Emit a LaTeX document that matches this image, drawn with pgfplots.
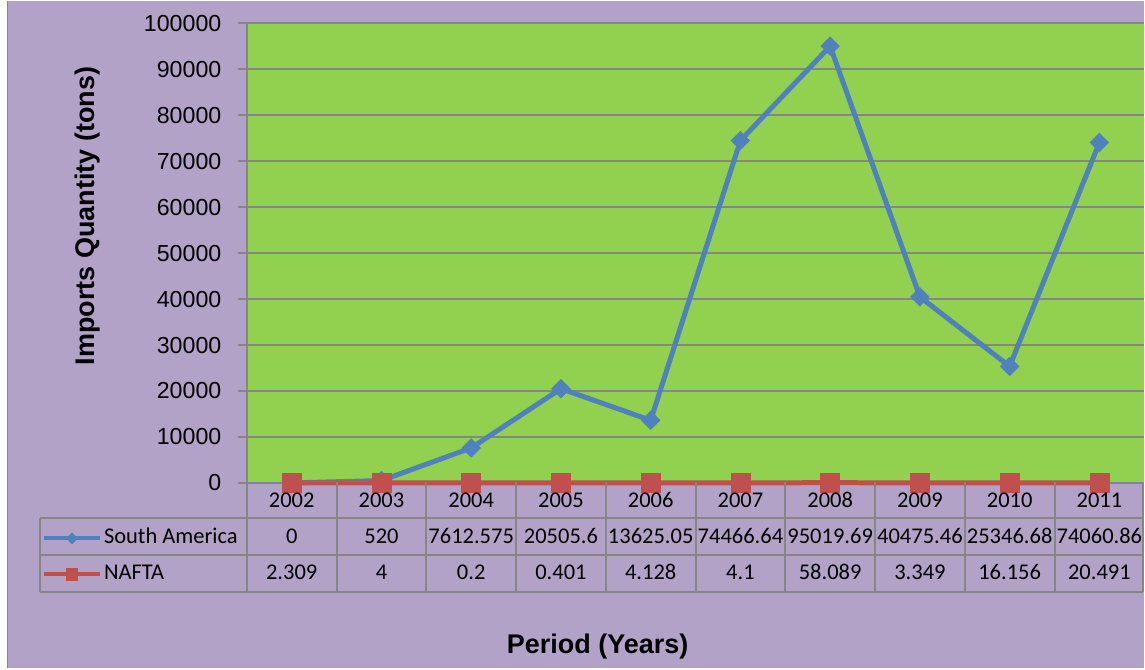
\documentclass[border=0pt]{standalone}
\usepackage{fontspec}
\setmainfont{Liberation Sans}
\newfontfamily\calibri{Carlito}
\usepackage{pgfplots}
\pgfplotsset{compat=1.18}
\definecolor{bgpurple}{HTML}{B3A2C7}
\definecolor{plotgreen}{HTML}{92D050}
\definecolor{gridgray}{HTML}{868686}
\definecolor{sablue}{HTML}{4F81BD}
\definecolor{nared}{HTML}{C0504D}
\begin{document}
\begin{tikzpicture}[x=1pt,y=1pt]
\fill[white] (0,0) rectangle (1145,668);
\fill[bgpurple] (8,0) rectangle (1145,668);
\draw[gridgray, line width=1.5pt] (7.5,0) -- (7.5,668);
\begin{axis}[
  at={(247pt,185.5pt)}, anchor=south west,
  scale only axis, width=898pt, height=460pt,
  xmin=-0.5, xmax=9.5, ymin=0, ymax=100000,
  ytick={0,10000,20000,30000,40000,50000,60000,70000,80000,90000,100000},
  yticklabels={0,10000,20000,30000,40000,50000,60000,70000,80000,90000,100000},
  xtick=\empty,
  scaled y ticks=false,
  axis background/.style={fill=plotgreen},
  ymajorgrids, grid style={gridgray, line width=1.5pt},
  axis lines*=left,
  axis line style={gridgray, line width=1.5pt},
  tick align=outside, major tick length=9pt,
  tick style={gridgray, line width=1.5pt},
  yticklabel style={font=\fontsize{23.2}{26}\selectfont, text=black, xshift=-13pt},
  clip=false,
  legend style={at={(-0.2282,-0.0978)}, anchor=north west, draw=none, fill=none,
    font=\calibri\fontsize{22.5}{26}\selectfont, inner sep=0pt, outer sep=0pt,
    row sep=15pt, column sep=2pt,
    nodes={inner sep=0pt, text height=16pt, text depth=5pt}},
  legend cell align=left,
  legend image code/.code={\draw[mark repeat=2,mark phase=2,#1, line width=4pt, every mark/.append style={scale=0.6}] plot coordinates {(0pt,0pt) (28pt,0pt) (56pt,0pt)};},
]
\addplot[sablue, line width=5pt, mark=square*, mark size=6.6pt, mark options={rotate=45, line width=0.5pt, fill=sablue}] coordinates {
(0,0) (1,520) (2,7612.575) (3,20505.6) (4,13625.05) (5,74466.64) (6,95019.69) (7,40475.46) (8,25346.68) (9,74060.86)};
\addlegendentry{South America}
\addplot[nared, line width=5pt, mark=square*, mark size=9.5pt, mark options={line width=0.5pt, fill=nared}] coordinates {
(0,2.309) (1,4) (2,0.2) (3,0.401) (4,4.128) (5,4.1) (6,58.089) (7,3.349) (8,16.156) (9,20.491)};
\addlegendentry{NAFTA}
\end{axis}
% data table grid
\begin{scope}[gridgray, line width=2pt]
\foreach \yy in {150,113,76} \draw (40,\yy) -- (1144,\yy);
\draw (40,150) -- (40,76);
\foreach \k in {0,...,9} \draw ({247+89.8*\k},186) -- ({247+89.8*\k},76);
\draw (1144,186) -- (1144,76);
\end{scope}
\begin{scope}[font=\calibri\fontsize{22.5}{26}\selectfont]
\foreach \lab [count=\i from 0] in {2002,2003,2004,2005,2006,2007,2008,2009,2010,2011}
  \node[anchor=base, inner sep=0pt] at ({247+89.8*(\i+0.5)},161) {\lab};
\foreach \lab [count=\i from 0] in {0,520,7612.575,20505.6,13625.05,74466.64,95019.69,40475.46,25346.68,74060.86}
  \node[anchor=base, inner sep=0pt] at ({247+89.8*(\i+0.5)},125) {\lab};
\foreach \lab [count=\i from 0] in {2.309,4,0.2,0.401,4.128,4.1,58.089,3.349,16.156,20.491}
  \node[anchor=base, inner sep=0pt] at ({247+89.8*(\i+0.5)},89) {\lab};
\end{scope}
\node[rotate=90, font=\bfseries\fontsize{27}{30}\selectfont, inner sep=0pt] at (88,452.5) {Imports Quantity (tons)};
\node[anchor=base, font=\bfseries\fontsize{27}{30}\selectfont, inner sep=0pt] at (598,15) {Period (Years)};
\end{tikzpicture}
\end{document}
